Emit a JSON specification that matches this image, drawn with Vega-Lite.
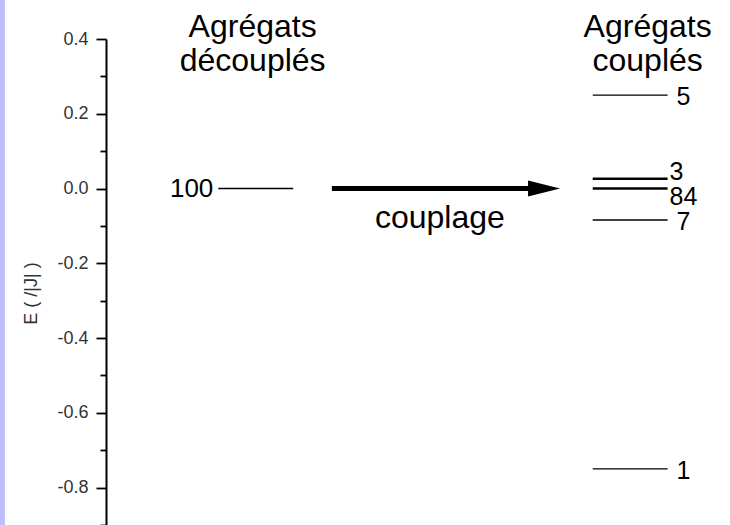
{
  "$schema": "https://vega.github.io/schema/vega-lite/v6.json",
  "width": 624,
  "height": 486,
  "autosize": "none",
  "padding": {"left": 106, "top": 39, "right": 0, "bottom": 0},
  "background": "white",
  "config": {
    "view": {"stroke": null},
    "font": "Liberation Sans",
    "text": {"font": "Liberation Sans", "color": "black"},
    "axis": {
      "grid": false,
      "domainColor": "black",
      "domainWidth": 2,
      "tickColor": "black",
      "tickWidth": 1.8,
      "labelFont": "Liberation Sans",
      "labelFontSize": 18,
      "labelColor": "#333333",
      "labelPadding": 8,
      "titleFont": "Liberation Sans",
      "titleFontSize": 18,
      "titleFontWeight": "normal",
      "titleColor": "#333333"
    }
  },
  "resolve": {"scale": {"y": "shared", "x": "shared"}, "axis": {"y": "independent"}},
  "datasets": {
    "levels": [
      {"col": "découplés", "x1": 1.8, "x2": 3.0, "E": 0.0, "label": "100", "n": 1},
      {"col": "couplés", "x1": 7.8, "x2": 9.0, "E": 0.25, "label": "5", "n": 1},
      {"col": "couplés", "x1": 7.8, "x2": 9.0, "E": 0.026, "label": "3", "n": 2},
      {"col": "couplés", "x1": 7.8, "x2": 9.0, "E": 0.0, "label": "84", "n": 2},
      {"col": "couplés", "x1": 7.8, "x2": 9.0, "E": -0.084, "label": "7", "n": 1},
      {"col": "couplés", "x1": 7.8, "x2": 9.0, "E": -0.75, "label": "1", "n": 1}
    ],
    "titles": [
      {"x": 2.35, "E": 0.406, "text": "Agrégats"},
      {"x": 2.35, "E": 0.315, "text": "découplés"},
      {"x": 8.68, "E": 0.406, "text": "Agrégats"},
      {"x": 8.68, "E": 0.315, "text": "couplés"}
    ],
    "arrow": [
      {"x1": 3.62, "x2": 6.9, "head": 7.02, "E": 0.0, "text": "couplage", "tx": 5.35, "tE": -0.105}
    ]
  },
  "layer": [
    {
      "data": {"name": "levels"},
      "mark": {"type": "rule", "color": "black"},
      "encoding": {
        "x": {"field": "x1", "type": "quantitative", "scale": {"domain": [0, 10], "nice": false, "zero": false}, "axis": null},
        "x2": {"field": "x2"},
        "y": {
          "field": "E", "type": "quantitative",
          "scale": {"domain": [-0.9, 0.4], "nice": false, "zero": false},
          "axis": {
            "orient": "left",
            "values": [-0.8, -0.6, -0.4, -0.2, 0.0, 0.2, 0.4],
            "labelExpr": "datum.value < -0.001 ? '-' + format(-datum.value, '.1f') : format(abs(datum.value), '.1f')",
            "tickSize": 10,
            "title": "E ( /|J| )",
            "titlePadding": 16,
            "titleY": 254
          }
        },
        "strokeWidth": {"field": "n", "type": "quantitative", "scale": {"domain": [1, 2], "range": [1.4, 2.6]}, "legend": null}
      }
    },
    {
      "data": {"values": [{}]},
      "mark": {"type": "rect", "color": "#BEBEFC", "clip": false},
      "encoding": {
        "x": {"datum": -1.75, "type": "quantitative", "axis": null},
        "x2": {"datum": -1.62},
        "y": {
          "datum": 0.55, "type": "quantitative",
          "axis": {
            "orient": "left",
            "values": [-0.9, -0.7, -0.5, -0.3, -0.1, 0.1, 0.3],
            "labels": false,
            "domain": false,
            "tickSize": 6,
            "title": null
          }
        },
        "y2": {"datum": -1.0}
      }
    },
    {
      "data": {"name": "levels"},
      "transform": [{"filter": "datum.col == 'découplés'"}],
      "mark": {"type": "text", "align": "right", "baseline": "middle", "dx": -5, "fontSize": 26},
      "encoding": {
        "x": {"field": "x1", "type": "quantitative"},
        "y": {"field": "E", "type": "quantitative", "axis": null},
        "text": {"field": "label"}
      }
    },
    {
      "data": {"name": "levels"},
      "transform": [{"filter": "datum.col == 'couplés' && datum.label != '3' && datum.label != '84'"}],
      "mark": {"type": "text", "align": "left", "baseline": "middle", "dx": 9, "dy": 2, "fontSize": 25},
      "encoding": {
        "x": {"field": "x2", "type": "quantitative"},
        "y": {"field": "E", "type": "quantitative", "axis": null},
        "text": {"field": "label"}
      }
    },
    {
      "data": {"name": "levels"},
      "transform": [{"filter": "datum.label == '3'"}],
      "mark": {"type": "text", "align": "left", "baseline": "alphabetic", "dx": 2, "dy": 1, "fontSize": 25},
      "encoding": {
        "x": {"field": "x2", "type": "quantitative"},
        "y": {"field": "E", "type": "quantitative", "axis": null},
        "text": {"field": "label"}
      }
    },
    {
      "data": {"name": "levels"},
      "transform": [{"filter": "datum.label == '84'"}],
      "mark": {"type": "text", "align": "left", "baseline": "alphabetic", "dx": 2, "dy": 16, "fontSize": 25},
      "encoding": {
        "x": {"field": "x2", "type": "quantitative"},
        "y": {"field": "E", "type": "quantitative", "axis": null},
        "text": {"field": "label"}
      }
    },
    {
      "data": {"name": "titles"},
      "mark": {"type": "text", "align": "center", "baseline": "alphabetic", "fontSize": 32, "clip": false},
      "encoding": {
        "x": {"field": "x", "type": "quantitative"},
        "y": {"field": "E", "type": "quantitative", "axis": null},
        "text": {"field": "text"}
      }
    },
    {
      "data": {"name": "arrow"},
      "mark": {"type": "rule", "color": "black", "strokeWidth": 5},
      "encoding": {
        "x": {"field": "x1", "type": "quantitative"},
        "x2": {"field": "x2"},
        "y": {"field": "E", "type": "quantitative", "axis": null}
      }
    },
    {
      "data": {"name": "arrow"},
      "mark": {"type": "point", "shape": "M-1,-0.5L1,0L-1,0.5Z", "filled": true, "color": "black", "size": 1024, "opacity": 1},
      "encoding": {
        "x": {"field": "head", "type": "quantitative"},
        "y": {"field": "E", "type": "quantitative", "axis": null}
      }
    },
    {
      "data": {"name": "arrow"},
      "mark": {"type": "text", "align": "center", "baseline": "alphabetic", "fontSize": 32},
      "encoding": {
        "x": {"field": "tx", "type": "quantitative"},
        "y": {"field": "tE", "type": "quantitative", "axis": null},
        "text": {"field": "text"}
      }
    }
  ]
}
